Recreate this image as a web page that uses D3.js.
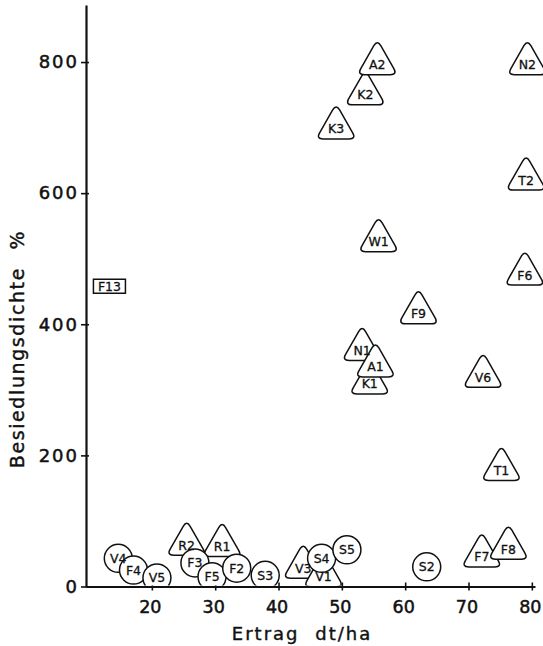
<!DOCTYPE html>
<html>
<head>
<meta charset="utf-8">
<script src="https://cdn.jsdelivr.net/npm/d3@7"></script>
<style>
  body { margin: 0; background: #fff; }
  svg { display: block; }
  text { font-family: "DejaVu Sans", sans-serif; fill: #111; }
</style>
</head>
<body>
<div id="chart"></div>
<script>
// sample plots: name, yield (dt/ha), density (%), marker shape
// array order = drawing order (later ones cover earlier ones)
const names  = ["F13","K2","A2","K3","N2","T2","W1","F9","N1","K1","A1","F6","V6","T1",
                "F7","F8","S2","V4","F4","V5","R2","R1","F3","F5","F2","S3","V3","V1","S4","S5"];
const yields = [13.3, 53.7, 55.6, 49.1, 79.3, 79.1, 55.8, 62.1, 53.2, 54.4, 55.3, 78.9, 72.3, 75.2,
                72.1, 76.3, 63.4, 14.7, 17.1, 20.8, 25.5, 31.1, 26.8, 29.5, 33.4, 37.9, 43.9, 47.1, 46.8, 50.8];
const density = [458, 750, 796, 698, 796, 620, 526, 416, 360, 309, 335, 475, 319, 177,
                 45, 57, 30, 43, 25, 13, 63, 61, 36, 15, 28, 17, 28, 15, 43, 56];
const shapes = ["rect","tri","tri","tri","tri","tri","tri","tri","tri","tri","tri","tri","tri","tri",
                "tri","tri","circ","circ","circ","circ","tri","tri","circ","circ","circ","circ","tri","tri","circ","circ"];

const xTicks = [20, 30, 40, 50, 60, 70, 80];
const yTicks = [0, 200, 400, 600, 800];

const W = 543, H = 646;

const svg = d3.select("#chart").append("svg")
    .attr("width", W)
    .attr("height", H);

const x = d3.scaleLinear().domain([9.6, 80.5]).range([86, 535]);
const y = d3.scaleLinear().domain([0, 887]).range([586.5, 5]);

// axes
const xAxis = svg.append("g")
    .attr("transform", `translate(0,${y(0)})`)
    .call(d3.axisBottom(x).tickValues(xTicks).tickSize(4).tickSizeOuter(0).tickPadding(10));
const yAxis = svg.append("g")
    .attr("transform", `translate(${x.range()[0]},0)`)
    .call(d3.axisLeft(y).tickValues(yTicks).tickSize(5).tickSizeOuter(0).tickPadding(2));

[xAxis, yAxis].forEach(g => {
    g.select(".domain").attr("stroke", "#111").attr("stroke-width", 2.2);
    g.selectAll(".tick line").attr("stroke", "#111").attr("stroke-width", 1.6);
    g.selectAll(".tick text")
        .attr("fill", "#111")
        .attr("stroke", "#111")
        .attr("stroke-width", 0.5);
});
xAxis.selectAll(".tick text").style("font-size", "17.5px").attr("dx", "-2px");
yAxis.selectAll(".tick text").style("font-size", "18px").style("letter-spacing", "2px");
xAxis.selectAll(".tick line").attr("y1", -4);
yAxis.selectAll(".tick line").attr("x1", 3);

// axis titles
svg.append("text")
    .attr("x", 302)
    .attr("y", 640)
    .attr("text-anchor", "middle")
    .attr("stroke", "#111")
    .attr("stroke-width", 0.4)
    .style("font-size", "18px")
    .style("letter-spacing", "2px")
    .style("word-spacing", "8px")
    .text("Ertrag dt/ha");

svg.append("text")
    .attr("transform", "translate(24,349) rotate(-90)")
    .attr("text-anchor", "middle")
    .attr("stroke", "#111")
    .attr("stroke-width", 0.4)
    .style("font-size", "19px")
    .style("letter-spacing", "1.6px")
    .style("word-spacing", "10px")
    .text("Besiedlungsdichte %");

// clip markers at the x axis
svg.append("defs").append("clipPath")
    .attr("id", "plotClip")
    .append("rect")
    .attr("x", x.range()[0] + 1)
    .attr("y", 0)
    .attr("width", W)
    .attr("height", y(0) - 1);

// rounded triangle around the label position
function roundedTri() {
    const pts = [[0, -25], [20, 10], [-20, 10]];
    const r = 7;
    let d = "";
    for (let i = 0; i < 3; i++) {
        const p = pts[i], prev = pts[(i + 2) % 3], next = pts[(i + 1) % 3];
        const l1 = Math.hypot(prev[0] - p[0], prev[1] - p[1]);
        const l2 = Math.hypot(next[0] - p[0], next[1] - p[1]);
        const a = [p[0] + (prev[0] - p[0]) * r / l1, p[1] + (prev[1] - p[1]) * r / l1];
        const b = [p[0] + (next[0] - p[0]) * r / l2, p[1] + (next[1] - p[1]) * r / l2];
        d += (i === 0 ? "M" : "L") + a[0] + "," + a[1] + "Q" + p[0] + "," + p[1] + " " + b[0] + "," + b[1];
    }
    return d + "Z";
}

const points = names.map((n, i) => ({name: n, yld: yields[i], dens: density[i], shape: shapes[i]}));

const marks = svg.append("g").attr("clip-path", "url(#plotClip)");

const g = marks.selectAll("g.mark")
    .data(points)
    .enter()
    .append("g")
    .attr("class", "mark")
    .attr("transform", d => `translate(${x(d.yld)},${y(d.dens)})`);

g.filter(d => d.shape === "tri").append("path")
    .attr("d", roundedTri())
    .attr("fill", "#fff")
    .attr("stroke", "#111")
    .attr("stroke-width", 1.5);

g.filter(d => d.shape === "circ").append("circle")
    .attr("r", 14)
    .attr("fill", "#fff")
    .attr("stroke", "#111")
    .attr("stroke-width", 1.5);

g.filter(d => d.shape === "rect").append("rect")
    .attr("x", -16)
    .attr("y", -7)
    .attr("width", 32)
    .attr("height", 14)
    .attr("fill", "#fff")
    .attr("stroke", "#111")
    .attr("stroke-width", 1.5);

// labels on top of all outlines
marks.selectAll("text.lbl")
    .data(points)
    .enter()
    .append("text")
    .attr("class", "lbl")
    .attr("x", d => x(d.yld))
    .attr("y", d => y(d.dens))
    .attr("text-anchor", "middle")
    .attr("dy", "0.36em")
    .attr("stroke", "#111")
    .attr("stroke-width", 0.3)
    .style("font-size", "12.5px")
    .text(d => d.name);
</script>
</body>
</html>
